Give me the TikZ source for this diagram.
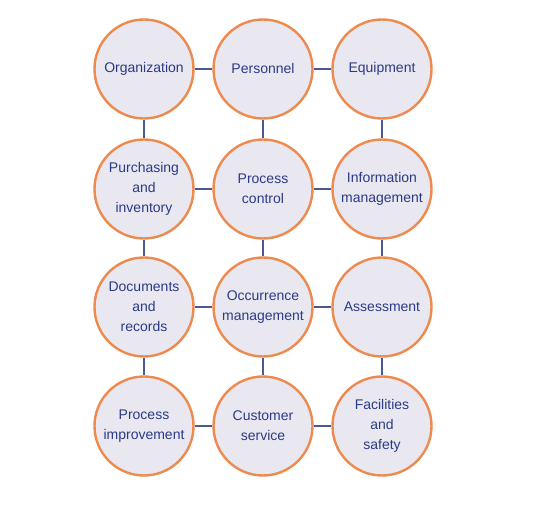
\documentclass[tikz,border=0pt]{standalone}
\usepackage{fontspec}
\setmainfont{Liberation Sans}
\definecolor{ringorange}{HTML}{EE8A4E}
\definecolor{discfill}{HTML}{E9E8F0}
\definecolor{inknavy}{HTML}{2B3A86}
\definecolor{linkblue}{HTML}{4A5894}
\begin{document}
\begin{tikzpicture}[x=1pt,y=-1pt,
    area/.style={circle,draw=ringorange,line width=2.4pt,fill=discfill,minimum size=99pt,inner sep=0pt,
      align=center,text=inknavy,font=\fontsize{14}{20}\selectfont},
    link/.style={draw=linkblue,line width=1.1pt}]
      \useasboundingbox (0,0) rectangle (544,510);
      % first row
      \node[area] (org) at (144,69) {Organization};
      \node[area] (pers) at (263,69) {Personnel};
      \node[area] (equip) at (382,69) {Equipment};
      % second row
      \node[area] (purch) at (144,189) {Purchasing\\and\\inventory};
      \node[area] (pctrl) at (263,189) {Process\\control};
      \node[area] (info) at (382,189) {Information\\management};
      % third row
      \node[area] (docs) at (144,307) {Documents\\and\\records};
      \node[area] (occ) at (263,307) {Occurrence\\management};
      \node[area] (assess) at (382,307) {Assessment};
      % fourth row
      \node[area] (pimp) at (144,426) {Process\\improvement};
      \node[area] (cust) at (263,426) {Customer\\service};
      \node[area] (fac) at (382,426) {Facilities\\and\\safety};
      % links
      \draw[link] (org) -- (pers) (pers) -- (equip);
      \draw[link] (purch) -- (pctrl) (pctrl) -- (info);
      \draw[link] (docs) -- (occ) (occ) -- (assess);
      \draw[link] (pimp) -- (cust) (cust) -- (fac);
      \draw[link] (org) -- (purch) (purch) -- (docs) (docs) -- (pimp);
      \draw[link] (pers) -- (pctrl) (pctrl) -- (occ) (occ) -- (cust);
      \draw[link] (equip) -- (info) (info) -- (assess) (assess) -- (fac);
\end{tikzpicture}
\end{document}
